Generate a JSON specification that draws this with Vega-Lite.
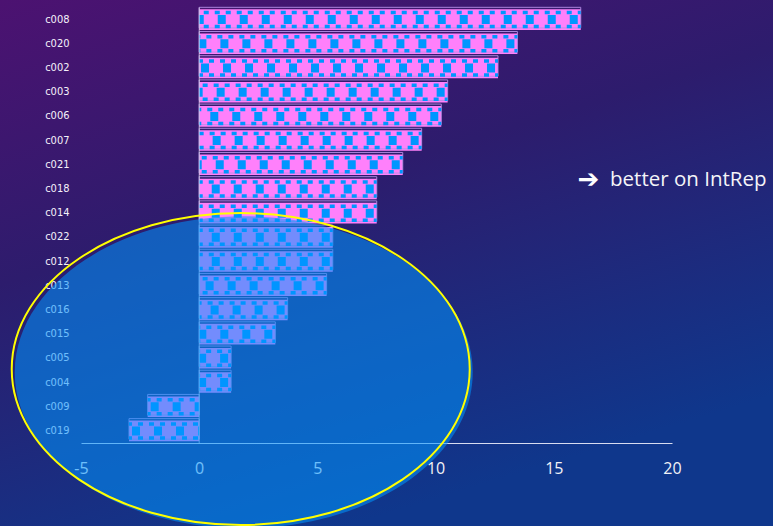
{
  "$schema": "https://vega.github.io/schema/vega-lite/v6.json",
  "width": 773,
  "height": 526,
  "autosize": "none",
  "padding": 0,
  "background": "#2a1e6e",
  "config": {
    "view": {
      "stroke": null,
      "fill": {
        "gradient": "linear",
        "x1": 0, "y1": 0, "x2": 0.45, "y2": 1,
        "stops": [
          {"offset": 0, "color": "#4c1271"},
          {"offset": 0.45, "color": "#2d1c6d"},
          {"offset": 1, "color": "#0f378c"}
        ]
      }
    }
  },
  "data": {
    "values": [
      {"code": "c008", "value": 16.14},
      {"code": "c020", "value": 13.46},
      {"code": "c002", "value": 12.64},
      {"code": "c003", "value": 10.51},
      {"code": "c006", "value": 10.24},
      {"code": "c007", "value": 9.41},
      {"code": "c021", "value": 8.61},
      {"code": "c018", "value": 7.51},
      {"code": "c014", "value": 7.51},
      {"code": "c022", "value": 5.65},
      {"code": "c012", "value": 5.65},
      {"code": "c013", "value": 5.39},
      {"code": "c016", "value": 3.74},
      {"code": "c015", "value": 3.22},
      {"code": "c005", "value": 1.35},
      {"code": "c004", "value": 1.35},
      {"code": "c009", "value": -2.18},
      {"code": "c019", "value": -2.97}
    ]
  },
  "layer": [
    {
      "mark": {"type": "bar", "fill": "#ff80fb", "stroke": null},
      "encoding": {
        "x": {
          "field": "value", "type": "quantitative", "stack": null,
          "scale": {"domain": [-5, 20], "range": [81, 672], "nice": false, "zero": false},
          "axis": {
            "orient": "bottom", "offset": -83, "values": [-5, 0, 5, 10, 15, 20],
            "title": null, "grid": false, "ticks": false,
            "domainColor": "#d8dcf0", "domainWidth": 1,
            "labelPadding": 17, "labelFont": "Open Sans", "labelFontSize": 16,
            "labelColor": "#f2f2f6", "labelFlush": false,
            "labelExpr": "replace(datum.label, '\u2212', '-')"
          }
        },
        "y": {
          "field": "code", "type": "nominal", "sort": null,
          "scale": {"range": [7.5, 443], "paddingInner": 0.15, "paddingOuter": 0.075},
          "axis": {
            "orient": "left", "offset": -81, "title": null, "domain": false,
            "ticks": false, "grid": false, "labelPadding": 12,
            "labelFont": "Liberation Sans Narrow, DejaVu Sans Condensed, sans-serif",
            "labelFontSize": 11, "labelColor": "#f4f0fa"
          }
        }
      }
    },
    {
      "mark": {"type": "bar", "filled": false, "stroke": "#b690e8", "strokeWidth": 1, "yOffset": -2, "opacity": 0.9},
      "encoding": {
        "x": {"field": "value", "type": "quantitative", "stack": null},
        "y": {"field": "code", "type": "nominal", "sort": null}
      }
    },
    {
      "mark": {"type": "rule", "color": "#0096ff", "strokeWidth": 9, "strokeDash": [8, 14], "strokeDashOffset": -3},
      "encoding": {
        "x": {"field": "value", "type": "quantitative"},
        "x2": {"datum": 0},
        "y": {"field": "code", "type": "nominal", "sort": null}
      }
    },
    {
      "mark": {"type": "rule", "color": "#0096ff", "strokeWidth": 3.5, "strokeDash": [5, 6], "strokeDashOffset": 2, "yOffset": -7},
      "encoding": {
        "x": {"field": "value", "type": "quantitative"},
        "x2": {"datum": 0},
        "y": {"field": "code", "type": "nominal", "sort": null}
      }
    },
    {
      "mark": {"type": "rule", "color": "#0096ff", "strokeWidth": 3.5, "strokeDash": [5, 6], "strokeDashOffset": 2, "yOffset": 7},
      "encoding": {
        "x": {"field": "value", "type": "quantitative"},
        "x2": {"datum": 0},
        "y": {"field": "code", "type": "nominal", "sort": null}
      }
    },
    {
      "mark": {"type": "tick", "color": "#e8e8f6", "thickness": 1, "size": 24.3, "orient": "vertical"},
      "encoding": {
        "x": {"datum": 0},
        "y": {"field": "code", "type": "nominal", "sort": null}
      }
    },
    {
      "data": {"values": [{"note": "region"}]},
      "mark": {
        "type": "point", "filled": true, "color": "#0096ff", "opacity": 0.55, "strokeWidth": 0,
        "size": 209764, "xOffset": 3, "yOffset": 14,
        "shape": "M-1,0C-1,-0.3763,-0.5523,-0.681,0,-0.681C0.5523,-0.681,1,-0.3763,1,0C1,0.3763,0.5523,0.681,0,0.681C-0.5523,0.681,-1,0.3763,-1,0Z"
      },
      "encoding": {
        "x": {"datum": 1.757},
        "y": {"datum": "c005"}
      }
    },
    {
      "data": {"values": [{"note": "region"}]},
      "mark": {
        "type": "point", "filled": false, "color": "#ffff00", "strokeWidth": 2, "opacity": 1,
        "size": 209764, "yOffset": 10.7,
        "shape": "M-1,0C-1,-0.3763,-0.5523,-0.681,0,-0.681C0.5523,-0.681,1,-0.3763,1,0C1,0.3763,0.5523,0.681,0,0.681C-0.5523,0.681,-1,0.3763,-1,0Z"
      },
      "encoding": {
        "x": {"datum": 1.757},
        "y": {"datum": "c005"}
      }
    },
    {
      "data": {"values": [{"note": "arrow"}]},
      "mark": {"type": "text", "text": "➔", "font": "DejaVu Sans", "fontSize": 26, "fontWeight": "normal", "color": "#ffffff", "align": "left", "baseline": "middle", "yOffset": -9},
      "encoding": {
        "x": {"datum": 16.0},
        "y": {"datum": "c018"}
      }
    },
    {
      "data": {"values": [{"note": "label"}]},
      "mark": {"type": "text", "text": "better on IntRep", "font": "Open Sans", "fontSize": 20.5, "fontWeight": "normal", "color": "#f4f4f8", "align": "left", "baseline": "middle", "yOffset": -9},
      "encoding": {
        "x": {"datum": 17.38},
        "y": {"datum": "c018"}
      }
    }
  ]
}
